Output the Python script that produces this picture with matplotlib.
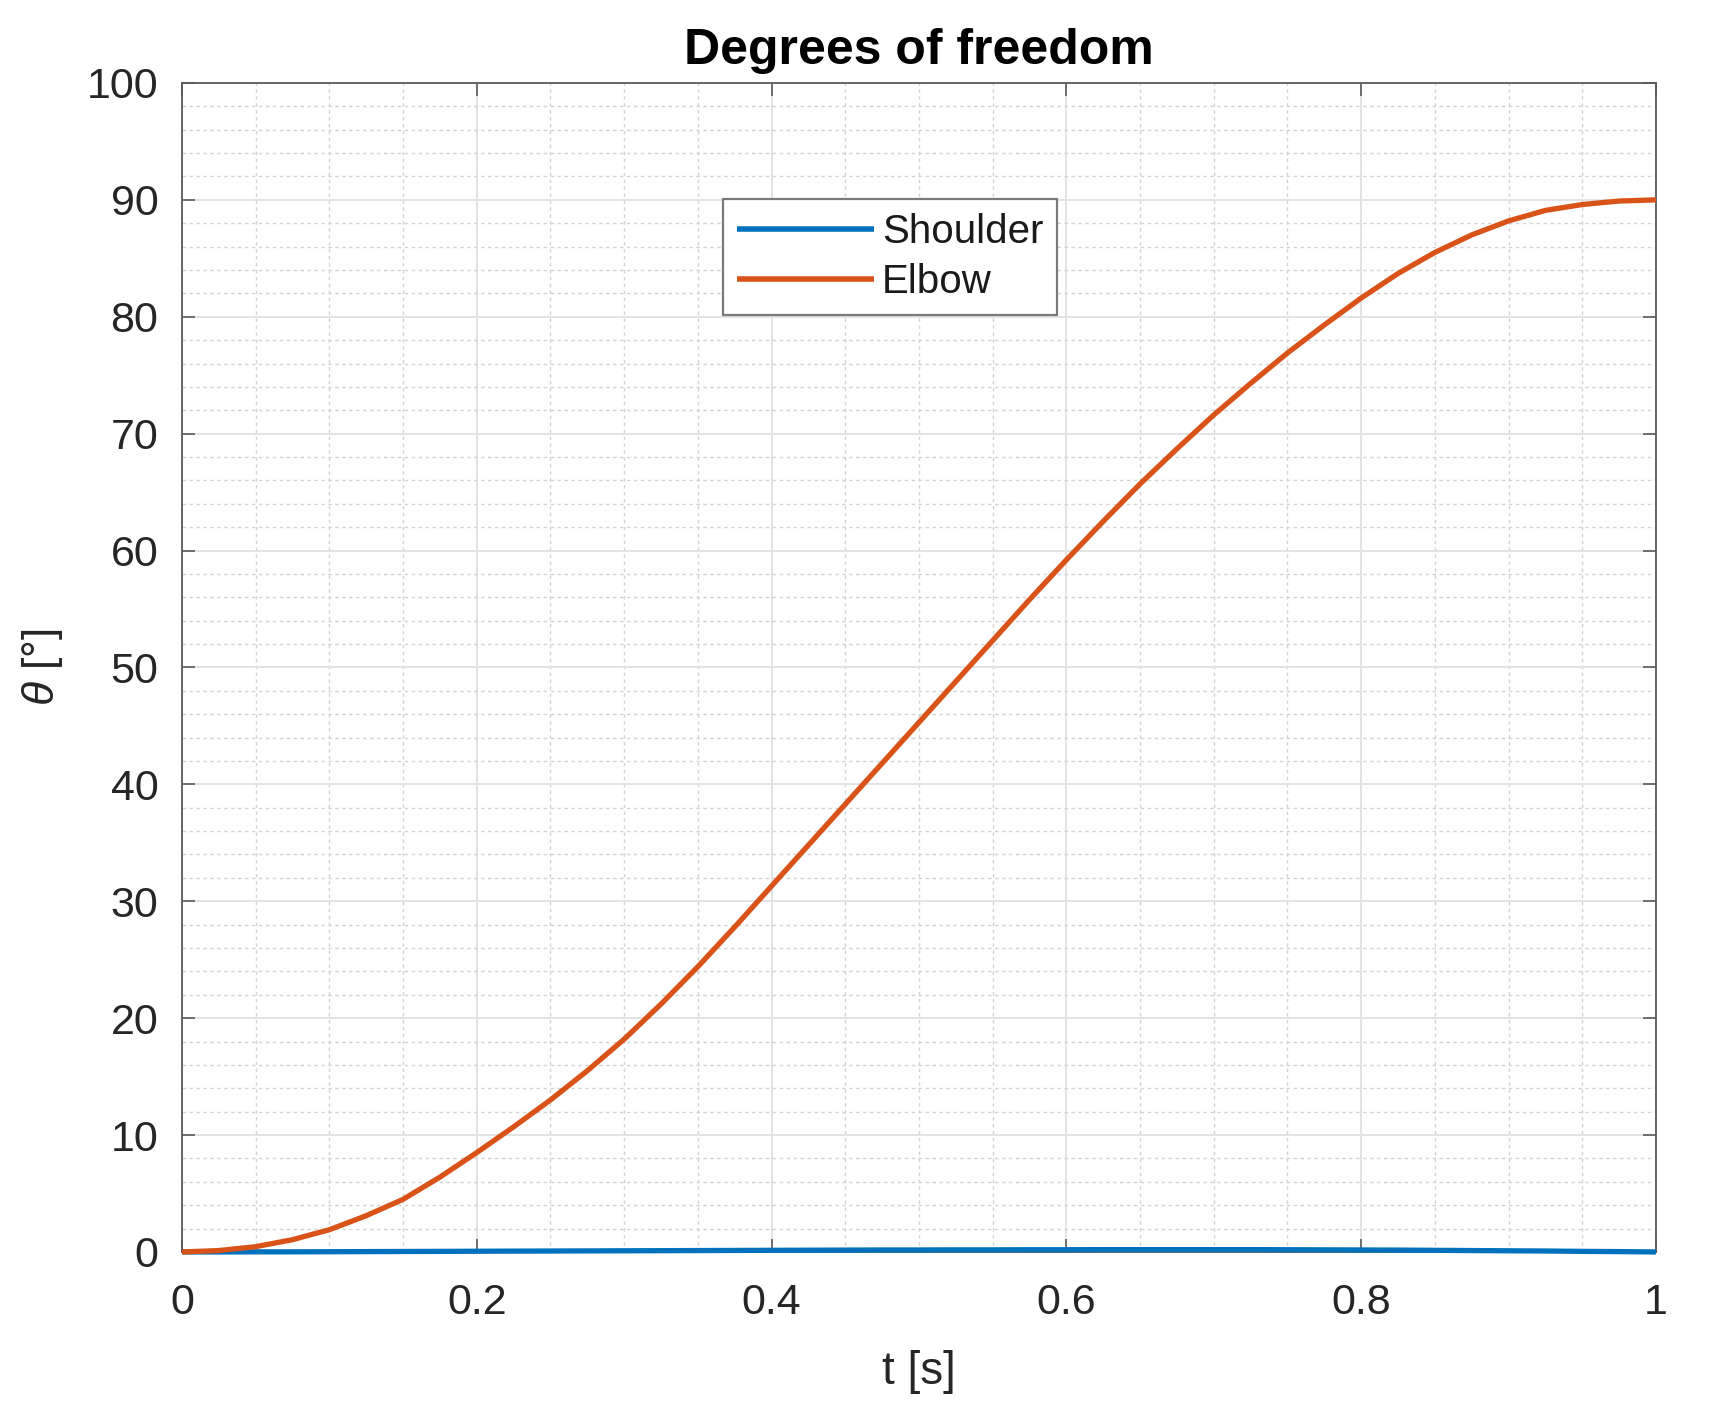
import matplotlib
matplotlib.use("Agg")
import matplotlib.pyplot as plt
from matplotlib.ticker import MultipleLocator

plt.rcParams['font.family'] = ['Liberation Sans', 'DejaVu Sans']
plt.rcParams['mathtext.fontset'] = 'custom'
plt.rcParams['mathtext.it'] = 'Liberation Sans:italic'
plt.rcParams['mathtext.rm'] = 'Liberation Sans'

# ---- data ----
t = [0.0, 0.025, 0.05, 0.075, 0.10, 0.125, 0.15, 0.175, 0.20, 0.225, 0.25,
     0.275, 0.30, 0.325, 0.35, 0.375, 0.40, 0.425, 0.45, 0.475, 0.50,
     0.525, 0.55, 0.575, 0.60, 0.625, 0.65, 0.675, 0.70, 0.725, 0.75,
     0.775, 0.80, 0.825, 0.85, 0.875, 0.90, 0.925, 0.95, 0.975, 1.0]
elbow = [0.0, 0.12, 0.45, 1.05, 1.9, 3.1, 4.5, 6.4, 8.5, 10.7, 13.0,
         15.5, 18.2, 21.2, 24.4, 27.8, 31.3, 34.8, 38.3, 41.8, 45.3,
         48.8, 52.3, 55.8, 59.2, 62.5, 65.7, 68.7, 71.6, 74.3, 76.9,
         79.3, 81.6, 83.7, 85.5, 87.0, 88.2, 89.1, 89.6, 89.9, 90.0]
shoulder = [0.0, 0.0, 0.01, 0.01, 0.02, 0.03, 0.04, 0.05, 0.06, 0.07, 0.08,
            0.09, 0.10, 0.11, 0.12, 0.13, 0.14, 0.15, 0.16, 0.17, 0.17,
            0.18, 0.18, 0.19, 0.19, 0.20, 0.20, 0.20, 0.20, 0.20, 0.19,
            0.18, 0.17, 0.16, 0.14, 0.12, 0.10, 0.08, 0.05, 0.03, 0.0]
series_labels = ["Shoulder", "Elbow"]
title_text = "Degrees of freedom"
xlabel_text = "t [s]"
ylabel_text = r"$\theta$ [°]"
xticks = [0, 0.2, 0.4, 0.6, 0.8, 1.0]
xticklabels = ["0", "0.2", "0.4", "0.6", "0.8", "1"]
yticks = list(range(0, 101, 10))

# ---- figure ----
fig = plt.figure(figsize=(17.10, 14.23), dpi=100)
ax = fig.add_axes([0.1064, 0.1202, 0.862, 0.8215])

blue = "#0072BD"
orange = "#D95319"
ax.plot(t, shoulder, color=blue, lw=3.8, label=series_labels[0],
        solid_capstyle='butt', zorder=3, clip_on=False)
ax.plot(t, elbow, color=orange, lw=3.8, label=series_labels[1],
        solid_capstyle='butt', solid_joinstyle='round', zorder=4, clip_on=False)

ax.set_xlim(0, 1)
ax.set_ylim(0, 100)
ax.set_xticks(xticks)
ax.set_xticklabels(xticklabels)
ax.set_yticks(yticks)
ax.xaxis.set_minor_locator(MultipleLocator(0.05))
ax.yaxis.set_minor_locator(MultipleLocator(2))

ax.grid(which='major', color='#e3e3e3', lw=1.4, ls='-', zorder=0)
ax.grid(which='minor', color='#d3d3d3', lw=1.0, ls=(0, (2.5, 2.5)), zorder=0)
ax.set_axisbelow(True)

spine_c = '#5a5a5a'
for s in ax.spines.values():
    s.set_color(spine_c)
    s.set_linewidth(1.3)

ax.tick_params(which='major', direction='in', length=9.5, width=1.2, color=spine_c,
               top=True, right=True, labelsize=31, labelcolor='#262626')
ax.tick_params(axis='x', which='major', pad=22)
ax.tick_params(axis='y', which='major', pad=17)
ax.tick_params(which='minor', length=0, top=True, right=True)

ax.set_title(title_text, fontsize=36, fontweight='bold', pad=14, color='black')
ax.set_xlabel(xlabel_text, fontsize=33, color='#262626')
ax.set_ylabel(ylabel_text, fontsize=32, color='#262626')
ax.xaxis.set_label_coords(0.5, -0.0838)
ax.yaxis.set_label_coords(-0.079, 0.5)

leg = ax.legend(loc='upper left', bbox_to_anchor=(0.367, 0.9008), borderaxespad=0,
                fontsize=29, handlelength=3.4, handletextpad=0.2, labelspacing=0.3,
                borderpad=0.35, fancybox=False, framealpha=1, edgecolor='#7a7a7a')
leg.get_frame().set_linewidth(1.6)
for line in leg.get_lines():
    line.set_linewidth(4.0)
for txt in leg.get_texts():
    txt.set_color('#1a1a1a')

fig.savefig("out.png", dpi=100, facecolor='white')
